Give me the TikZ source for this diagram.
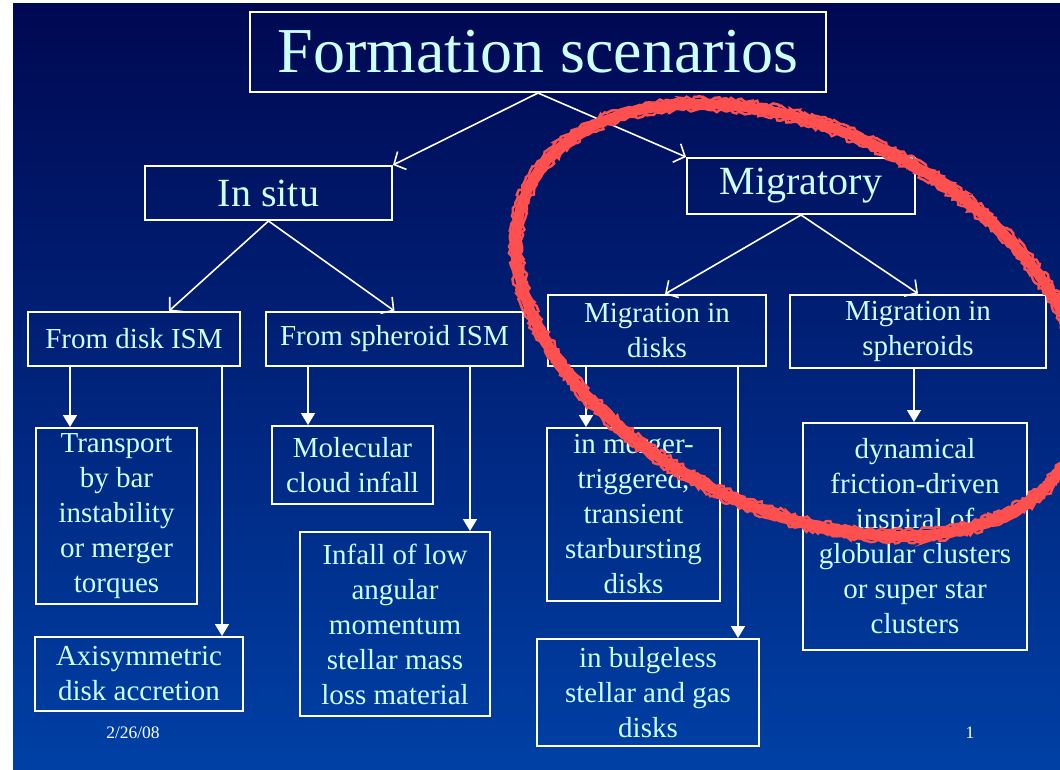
\documentclass[tikz,border=0pt]{standalone}
\usepackage{fontspec}
\setmainfont{Liberation Serif}
\usetikzlibrary{arrows.meta,decorations.pathmorphing}
\definecolor{slidetop}{RGB}{0,8,82}
\definecolor{slidebottom}{RGB}{0,64,165}
\definecolor{boxtext}{RGB}{204,255,255}
\definecolor{marker}{RGB}{255,80,80}

\begin{document}
\begin{tikzpicture}[x=1pt,y=-1pt,
	box/.style={draw=white,line width=2pt,text=boxtext,align=center,inner sep=0pt},
	big/.style={font=\fontsize{40}{46}\selectfont},
	small/.style={font=\fontsize{29}{35}\selectfont},
	split/.style={draw=white,line width=1.6pt,-{Straight Barb[length=9pt,width=20pt,line width=1.6pt]}},
	down/.style={draw=white,line width=1.8pt,-{Triangle[length=12pt,width=14pt]}}]
	
	\useasboundingbox (0,0) rectangle (1060,770);
	\shade[top color=slidetop,bottom color=slidebottom] (13,4) rectangle (1060,770);
	
	%TITLE
	\node[box,minimum width=576pt,minimum height=80pt,font=\fontsize{64}{70}\selectfont] (title) at (538,52) {Formation scenarios};
	
	%ONE
	\node[box,big,minimum width=247pt,minimum height=54pt] (insitu) at (268.5,193) {In situ};
	\node[box,big,minimum width=228pt,minimum height=56pt] (migr) at (801,186) {Migratory};
	
	%TWO
	\node[box,small,minimum width=212pt,minimum height=54pt] (fromdisk) at (134,339) {From disk ISM};
	\node[box,small,minimum width=257pt,minimum height=54pt] (fromsph) at (394.5,339) {From spheroid ISM};
	\node[box,small,minimum width=218pt,minimum height=71pt] (migdisk) at (657,330.5) {Migration in\\disks};
	\node[box,small,minimum width=256pt,minimum height=73pt] (migsph) at (918,331) {Migration in\\spheroids};
	
	%THREE
	\node[box,small,minimum width=161pt,minimum height=176pt] (transport) at (116.5,516) {Transport\\by bar\\instability\\or merger\\torques};
	\node[box,small,minimum width=208pt,minimum height=74pt] (axisym) at (139,674) {Axisymmetric\\disk accretion};
	\node[box,small,minimum width=161pt,minimum height=78pt] (molec) at (352.5,465) {Molecular\\cloud infall};
	\node[box,small,minimum width=190pt,minimum height=184pt] (infall) at (395,624) {Infall of low\\angular\\momentum\\stellar mass\\loss material};
	\node[box,small,minimum width=173pt,minimum height=173pt] (merger) at (633.5,514.5) {in merger-\\triggered,\\transient\\starbursting\\disks};
	\node[box,small,minimum width=222pt,minimum height=107pt] (bulgeless) at (648,692.5) {in bulgeless\\stellar and gas\\disks};
	\node[box,small,minimum width=224pt,minimum height=227pt] (dynamical) at (915,536.5) {dynamical\\friction-driven\\inspiral of\\globular clusters\\or super star\\clusters};
	
	%ARROWS
	\draw[split] (title.south) -- (insitu.north east);
	\draw[split] (title.south) -- (migr.north west);
	\draw[split] (insitu.south) -- ([xshift=35pt]fromdisk.north);
	\draw[split] (insitu.south) -- (fromsph.north);
	\draw[split] (migr.south) -- ([xshift=8pt]migdisk.north);
	\draw[split] (migr.south) -- (migsph.north);
	
	\foreach \from/\to/\x in {fromdisk/transport/70,fromdisk/axisym/222,fromsph/molec/308,fromsph/infall/470,migdisk/merger/586,migdisk/bulgeless/738,migsph/dynamical/914}
	\draw[down] (\from.south -| \x,0) -- (\to.north -| \x,0);
	
	%FOOTER
	\node[text=white,font=\fontsize{17.5}{20}\selectfont] (date) at (133,733) {2/26/08};
	\node[text=white,font=\fontsize{17.5}{20}\selectfont] (page) at (970,733) {1};
	
	%MARKER
	\pgfmathsetseed{7}
	\draw[marker,line width=10pt,rotate around={-26:(800,320)}] (800,320) ellipse [x radius=302,y radius=190];
	\foreach \r in {-6,-3,3,6}
	\draw[marker,line width=2.5pt,decorate,decoration={random steps,segment length=3pt,amplitude=2pt},rotate around={-26:(800,320)}] (800,320) ellipse [x radius=302+\r,y radius=190+\r];
\end{tikzpicture}
\end{document}
